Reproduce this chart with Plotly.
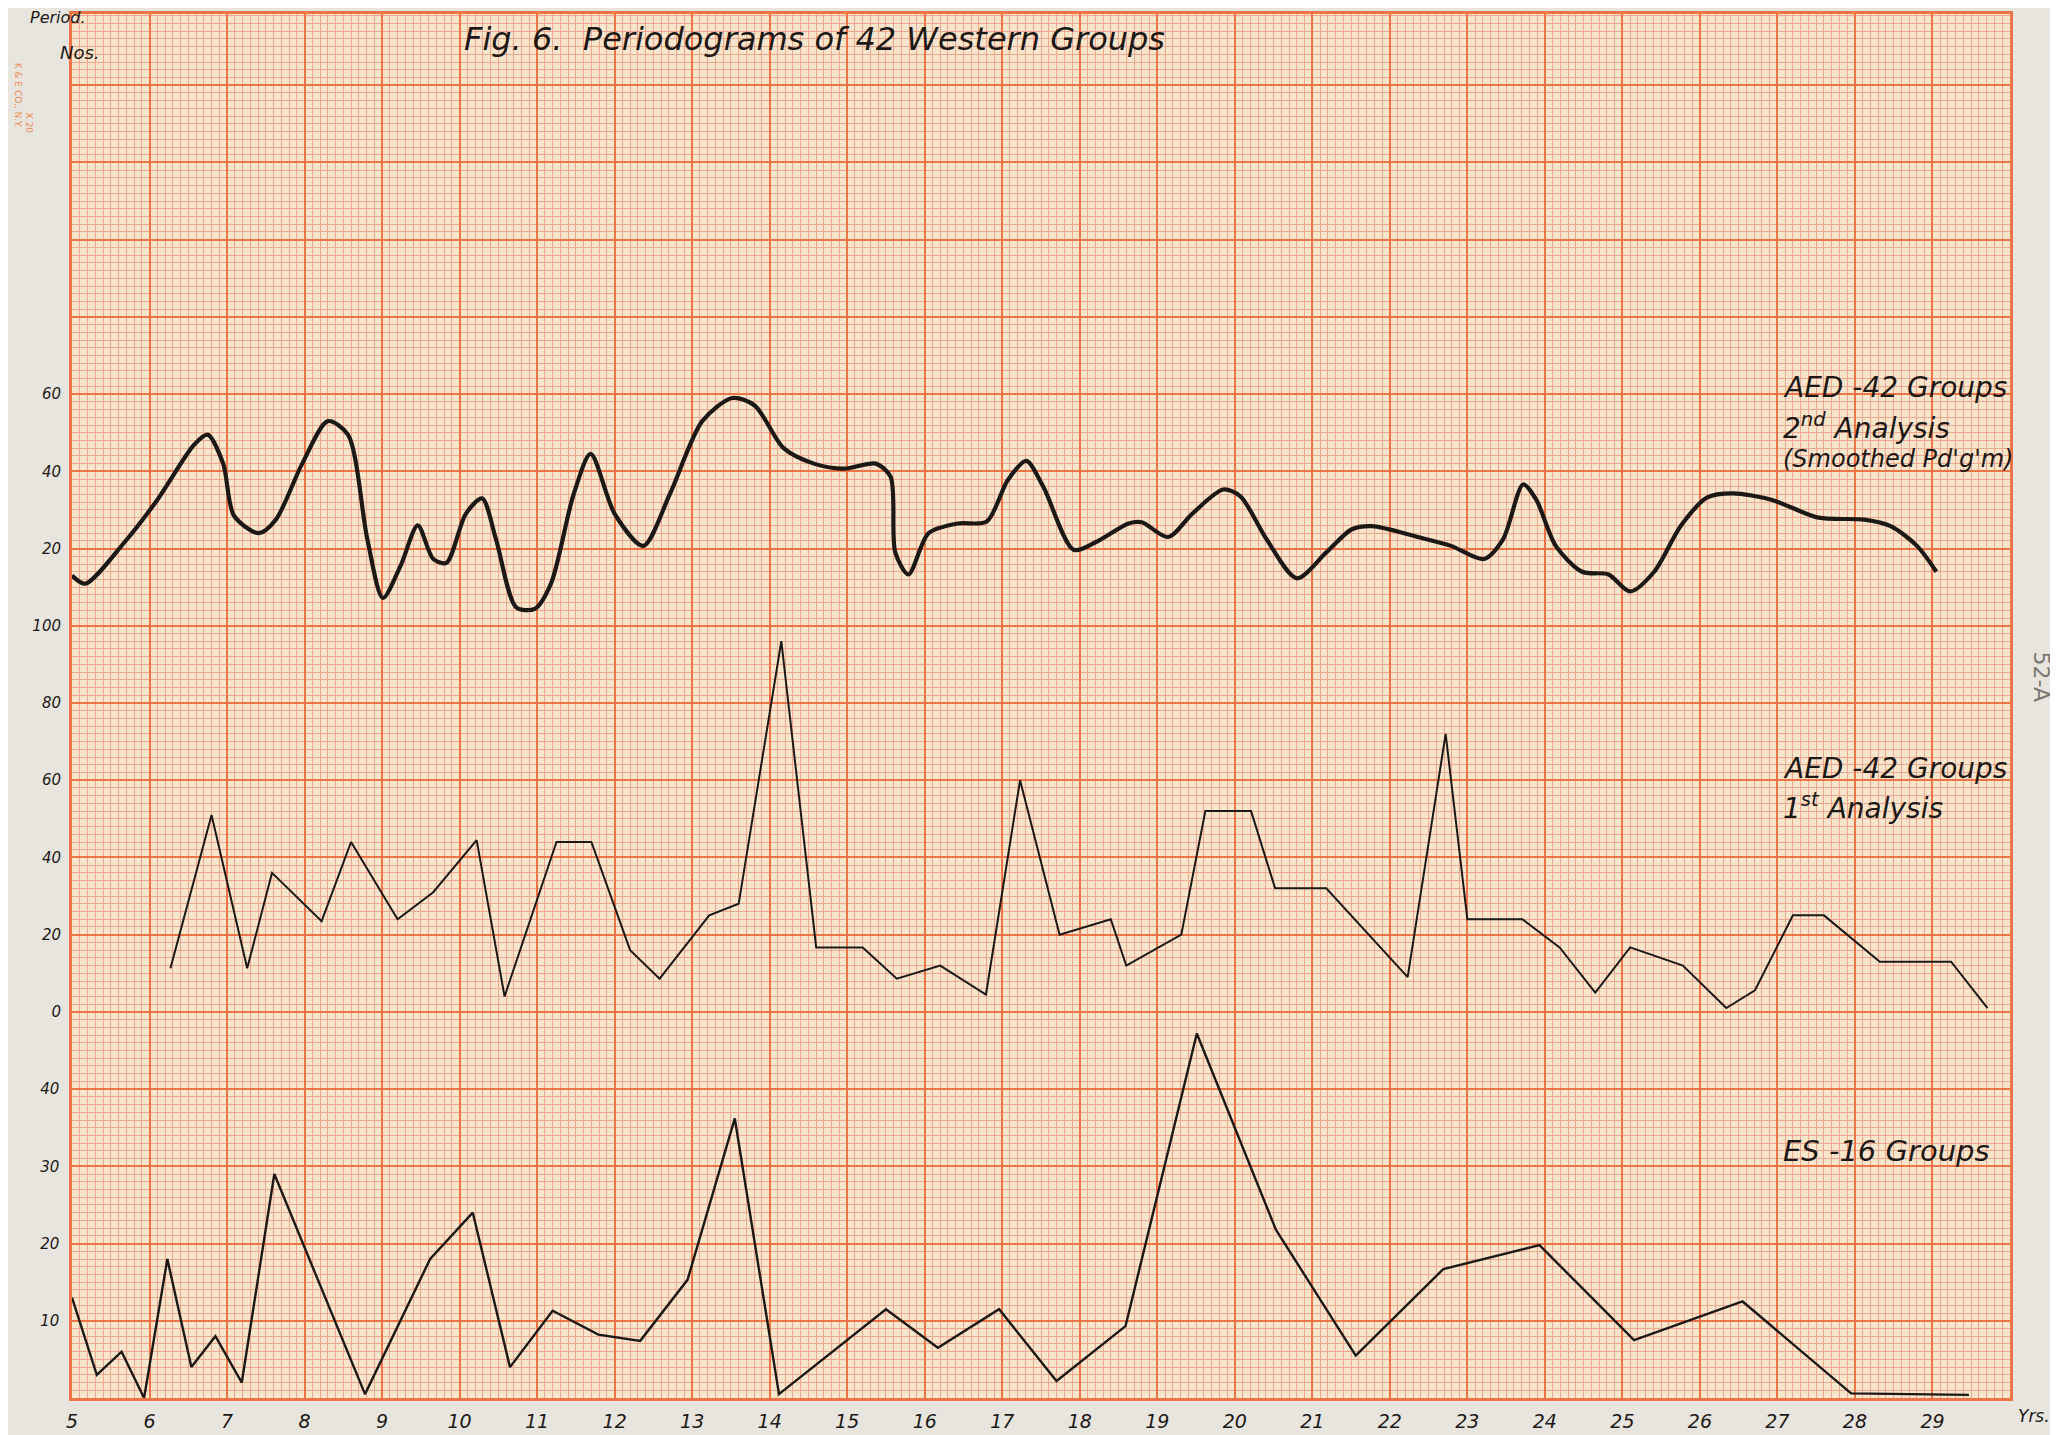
import plotly.graph_objects as go

# ---------------- data ----------------
# AED - 42 Groups, 2nd analysis (smoothed periodogram)
aed2_period = [5.0, 5.17, 5.68, 6.1, 6.58, 6.75, 6.95, 7.09, 7.41, 7.63, 7.97, 8.3, 8.56, 8.81, 9.01,
               9.24, 9.46, 9.66, 9.83, 10.08, 10.29, 10.47, 10.73, 10.97, 11.18, 11.47, 11.69, 12.0,
               12.37, 12.71, 13.13, 13.52, 13.81, 14.18, 14.57, 14.96, 15.37, 15.56, 15.62, 15.79,
               16.05, 16.43, 16.8, 17.07, 17.31, 17.53, 17.92, 18.21, 18.63, 18.8, 19.14, 19.45,
               19.85, 20.07, 20.41, 20.8, 21.18, 21.51, 21.77, 22.36, 22.79, 23.21, 23.46, 23.72,
               23.89, 24.14, 24.48, 24.82, 25.1, 25.41, 25.75, 26.09, 26.42, 26.93, 27.53, 28.12,
               28.46, 28.8, 29.05]
aed2_value = [13, 10.9, 21.7, 32.6, 47, 49.5, 42, 28.5, 24, 27.5, 42, 53, 49.5, 22.4, 7.2,
              15.6, 26, 17.3, 16.3, 29, 33, 22.4, 4.8, 4.4, 11, 34, 44.5, 29,
              20.7, 34, 53, 59, 57, 46, 42, 40.7, 42, 38.6, 19, 13.3,
              24, 26.5, 27, 37.7, 42.7, 36, 19.7, 21.7, 26.5, 26.8, 23, 29,
              35.3, 33.6, 22.4, 12.3, 19, 25, 25.8, 23, 20.7, 17.3, 22.4, 36.6,
              32.6, 20.7, 14, 13.3, 8.9, 14, 25.8, 33.2, 34.3, 32.6, 28, 27.5,
              25.8, 20.7, 14]

# AED - 42 Groups, 1st analysis
aed1_period = [6.27, 6.8, 7.26, 7.58, 8.22, 8.6, 9.2, 9.66, 10.22, 10.58, 11.25, 11.7, 12.2, 12.58,
               13.22, 13.6, 14.15, 14.6, 15.2, 15.64, 16.2, 16.79, 17.23, 17.74, 18.4, 18.6, 19.31,
               19.62, 20.21, 20.52, 21.18, 22.23, 22.72, 23.0, 23.71, 24.19, 24.65, 25.1, 25.78,
               26.34, 26.71, 27.2, 27.6, 28.32, 29.24, 29.71]
aed1_value = [11.3, 51, 11.3, 36, 23.5, 44, 24, 31, 44.5, 4, 44, 44, 16, 8.6,
              25, 28, 96, 16.7, 16.7, 8.6, 12, 4.5, 60, 20, 24, 12, 20,
              52, 52, 32, 32, 9, 72, 24, 24, 16.7, 5, 16.7, 12,
              1, 5.6, 25, 25, 13, 13, 1]

# ES - 16 Groups
es_period = [5.0, 5.32, 5.64, 5.93, 6.23, 6.54, 6.85, 7.19, 7.61, 8.78, 9.62, 10.17, 10.65, 11.2,
             11.79, 12.33, 12.94, 13.55, 14.12, 15.5, 16.17, 16.96, 17.7, 18.59, 19.51, 20.53,
             21.56, 22.69, 23.93, 25.15, 26.55, 27.95, 29.47]
es_value = [13, 3, 6, 0, 18, 4, 8, 2, 29, 0.5, 18, 24, 4, 11.3,
            8.2, 7.4, 15.3, 36.2, 0.5, 11.5, 6.5, 11.5, 2.2, 9.3, 47.2, 21.8,
            5.5, 16.7, 19.8, 7.5, 12.5, 0.6, 0.4]

x_ticks = list(range(5, 30))
es_ticks = [10, 20, 30, 40]
aed1_ticks = [0, 20, 40, 60, 80, 100]
aed2_ticks = [20, 40, 60]

# ---------------- style ----------------
OFF = 8                      # browser body margin
W, H = 2058 - OFF, 1435 - OFF
L, R, T, B = 72, 2010, 11, 1400   # plot box in reference-page pixels
INK = "#1c1816"
MAJOR = "#ef7548"
MINOR = "#f1a690"
PAPER = "#e8e5de"
GRIDBG = "#f7e6cb"
FONT = "DejaVu Sans"

x_range = [5, 30]
es_top = (B - T) / 7.75          # ES units: 10 per major square (77.5 px)
es_range = [0, es_top]
aed1_range = [2 * (es_range[0] - 50), 2 * (es_range[1] - 50)]
aed2_range = [2 * (es_range[0] - 100), 2 * (es_range[1] - 100)]
es_grid = list(range(0, int(es_top) + 1, 10))

fig = go.Figure()
fig.add_trace(go.Scatter(x=es_period, y=es_value, mode="lines", yaxis="y",
                         line=dict(color=INK, width=2.4), showlegend=False))
fig.add_trace(go.Scatter(x=aed1_period, y=aed1_value, mode="lines", yaxis="y2",
                         line=dict(color=INK, width=2.0), showlegend=False))
fig.add_trace(go.Scatter(x=aed2_period, y=aed2_value, mode="lines", yaxis="y3",
                         line=dict(color=INK, width=4.2, shape="spline", smoothing=0.8),
                         showlegend=False))

tickfont = dict(family=FONT, size=15, color=INK, style="italic")
label_axis = dict(overlaying="y", side="left", anchor="x", tickfont=tickfont,
                  ticks="outside", ticklen=7, tickcolor="rgba(0,0,0,0)",
                  showgrid=False, zeroline=False, showline=False)

fig.update_layout(
    width=W, height=H,
    margin=dict(l=L - OFF, r=W - (R - OFF), t=T - OFF, b=H - (B - OFF), pad=0),
    paper_bgcolor=PAPER, plot_bgcolor=GRIDBG,
    xaxis=dict(range=x_range, tickvals=x_ticks, ticktext=[str(v) for v in x_ticks],
               tickfont=dict(family=FONT, size=19, color=INK, style="italic"),
               ticks="outside", ticklen=4, tickcolor="rgba(0,0,0,0)",
               showgrid=True, gridcolor=MAJOR, gridwidth=1.6,
               minor=dict(dtick=0.1, tick0=5, showgrid=True, gridcolor=MINOR, gridwidth=1),
               showline=True, linecolor=MAJOR, linewidth=2.5, mirror=True, zeroline=False),
    yaxis=dict(range=es_range, tickvals=es_grid,
               ticktext=[str(v) if v in es_ticks else " " for v in es_grid],
               tickfont=tickfont, ticks="outside", ticklen=7, tickcolor="rgba(0,0,0,0)",
               showgrid=True, gridcolor=MAJOR, gridwidth=1.6,
               minor=dict(dtick=1, tick0=0, showgrid=True, gridcolor=MINOR, gridwidth=1),
               showline=True, linecolor=MAJOR, linewidth=2.5, mirror=True, zeroline=False),
    yaxis2=dict(range=aed1_range, tickvals=aed1_ticks,
                ticktext=[str(v) for v in aed1_ticks], **label_axis),
    yaxis3=dict(range=aed2_range, tickvals=aed2_ticks,
                ticktext=[str(v) for v in aed2_ticks], **label_axis),
)


def ann(text, px, py, size, color=INK, angle=0, xanchor="left", italic=True):
    """Place a text at reference-page pixel (px, py) using paper coordinates."""
    fig.add_annotation(text=text, x=(px - L) / (R - L), y=(B - py) / (B - T),
                       xref="paper", yref="paper", showarrow=False,
                       xanchor=xanchor, yanchor="middle", textangle=angle,
                       font=dict(family=FONT, size=size, color=color,
                                 style="italic" if italic else "normal"))


ann("Fig. 6.  Periodograms of 42 Western Groups", 462, 36, 32)
ann("Period.", 28, 15, 16)
ann("Nos.", 58, 50, 18)
ann("AED -42 Groups", 1781, 386, 28)
ann("2<sup>nd</sup> Analysis", 1781, 425, 28)
ann("(Smoothed Pd'g'm)", 1781, 458, 24)
ann("AED -42 Groups", 1781, 768, 28)
ann("1<sup>st</sup> Analysis", 1781, 806, 28)
ann("ES -16 Groups", 1781, 1152, 29)
ann("Yrs.", 2016, 1418, 17)
ann("52-A", 2041, 676, 22, color="#7a756f", angle=90, xanchor="center", italic=False)
ann("K &amp; E CO., N.Y.", 18, 92, 9, color="#ec8a55", angle=90, xanchor="center", italic=False)
ann("X 20", 29, 120, 9, color="#ec8a55", angle=90, xanchor="center", italic=False)

fig.write_html("out.html")
